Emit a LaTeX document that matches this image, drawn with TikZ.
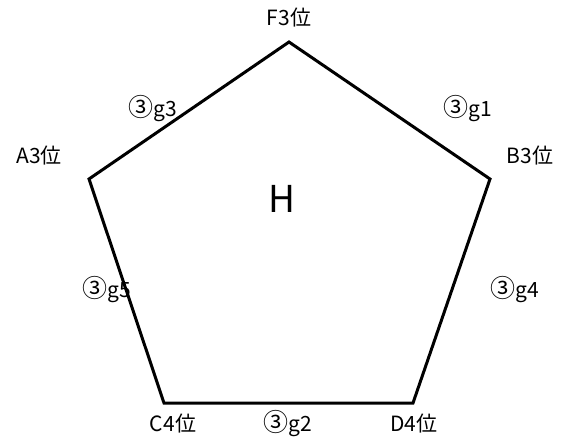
\documentclass[tikz,border=0pt]{standalone}
\usepackage{fontspec}
\setmainfont{Noto Sans CJK JP}
\newcommand{\circthree}{{\fontsize{25}{20}\selectfont ③}}

\begin{document}
\begin{tikzpicture}[
        x=1pt, y=-1pt,
        edge/.style={line width=3pt, line join=miter},
        every node/.style={
            inner sep=0pt,
            font=\fontsize{21}{21}\selectfont
        },
        big/.style={font=\fontsize{37}{37}\selectfont}
    ]
    \useasboundingbox (0,0) rectangle (566,439);
    % corners
    \coordinate (F) at (289,42);
    \coordinate (B) at (490,179);
    \coordinate (D) at (413,403);
    \coordinate (C) at (164,403);
    \coordinate (A) at (89,179);
    \draw[edge] (F) -- (B) -- (D) -- (C) -- (A) -- cycle;
    % corner labels
    \node (f3) at (289,18) {F3位};
    \node (b3) at (530,156) {B3位};
    \node (d4) at (414,424) {D4位};
    \node (c4) at (173,424) {C4位};
    \node (a3) at (39,156) {A3位};
    \node[big] (h) at (282,199) {H};
    % edge labels
    \node (g3) at (153,109) {\circthree g3};
    \node (g1) at (468,109) {\circthree g1};
    \node (g5) at (107,290) {\circthree g5};
    \node (g4) at (515,290) {\circthree g4};
    \node (g2) at (288,424) {\circthree g2};
\end{tikzpicture}
\end{document}
